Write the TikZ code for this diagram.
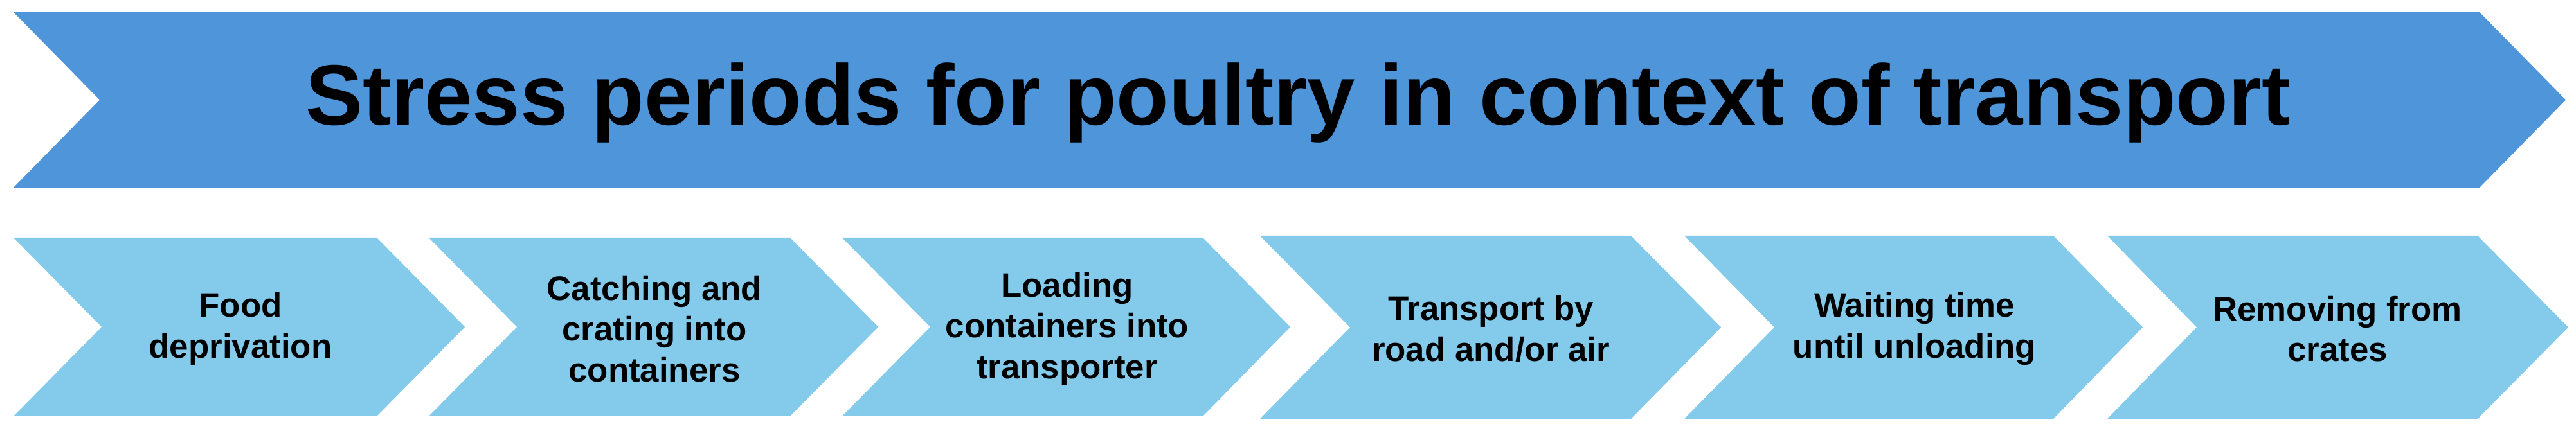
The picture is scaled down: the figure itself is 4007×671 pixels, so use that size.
\documentclass[tikz,border=0pt]{standalone}
\usepackage{fontspec}
\setmainfont{Liberation Sans}
\definecolor{bannerblue}{HTML}{4F95D9}
\definecolor{chevblue}{HTML}{83CAEB}
\tikzset{
  banner/.style={fill=bannerblue},
  chev/.style={fill=chevblue},
  titletext/.style={font=\fontsize{33.4pt}{40pt}\selectfont\bfseries, text=black, inner sep=0pt},
  steptext/.style={font=\fontsize{13.2pt}{15.9pt}\selectfont\bfseries, text=black, align=center, inner sep=0pt}
}
\begin{document}
\begin{tikzpicture}[x=0.25pt,y=-0.25pt]
\useasboundingbox (0,0) rectangle (4007,671);
% top banner
\fill[banner] (21,19) -- (3857,19) -- (3991,155.5) -- (3857,292) -- (21,292) -- (155,155.5) -- cycle;
\node[titletext, anchor=base] (title) at (2019,195) {Stress periods for poultry in context of transport};
% chevrons
\fill[chev] (21,370) -- (586,370) -- (723,509) -- (586,648) -- (21,648) -- (158,509) -- cycle;
\fill[chev] (667,370) -- (1229,370) -- (1366,509) -- (1229,648) -- (667,648) -- (804,509) -- cycle;
\fill[chev] (1310,370) -- (1871,370) -- (2007,509) -- (1871,648) -- (1310,648) -- (1447,509) -- cycle;
\fill[chev] (1960,367) -- (2537,367) -- (2677,509.5) -- (2537,652) -- (1960,652) -- (2100,509.5) -- cycle;
\fill[chev] (2620,367) -- (3194,367) -- (3333,509.5) -- (3194,652) -- (2620,652) -- (2760,509.5) -- cycle;
\fill[chev] (3278,367) -- (3854,367) -- (3995,509.5) -- (3854,652) -- (3278,652) -- (3417,509.5) -- cycle;
% labels
\node[steptext] (s1) at (374,512) {Food\\deprivation};
\node[steptext] (s2) at (1018,512) {Catching and\\crating into\\containers};
\node[steptext] (s3) at (1660,512) {Loading\\containers into\\transporter};
\node[steptext] (s4) at (2319,512) {Transport by\\road and/or air};
\node[steptext] (s5) at (2978,512) {Waiting time\\until unloading};
\node[steptext] (s6) at (3636,512) {Removing from\\crates};
\end{tikzpicture}
\end{document}
